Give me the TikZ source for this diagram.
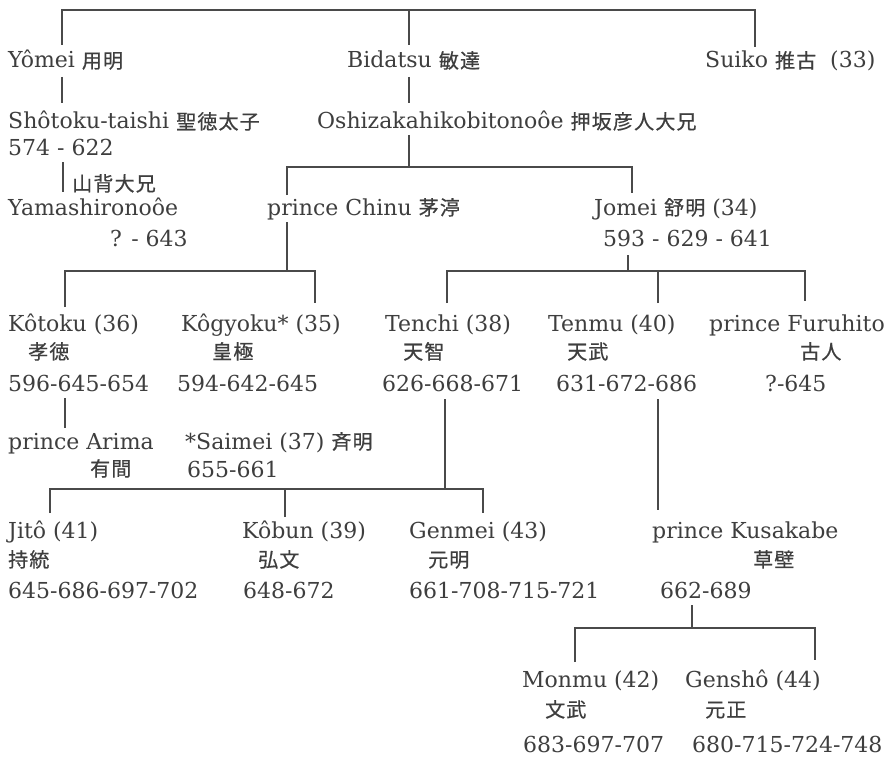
\documentclass[tikz,border=0pt]{standalone}
\usepackage{fontspec}
\setmainfont{DejaVu Serif}
\newfontfamily\cjkfont[FakeBold=0.6,LetterSpace=6]{Noto Sans CJK JP}
\newcommand{\cj}[1]{{\cjkfont\fontsize{20}{23}\selectfont #1}}
\definecolor{ink}{HTML}{3E3E3E}
\definecolor{wire}{HTML}{4A4A4A}
\tikzset{
  lbl/.style={inner sep=0pt, anchor=base west, text=ink, font=\fontsize{22}{26}\selectfont},
  wireline/.style={draw=wire, line width=1.8pt}
}
\begin{document}
\begin{tikzpicture}[x=1pt,y=-1pt]
\useasboundingbox[fill=white] (0,0) rectangle (886,757);
% generation 1
\node[lbl] (yomei) at (8,68) {Yômei \cj{用明}};
\node[lbl] (bidatsu) at (347,68) {Bidatsu \cj{敏達}};
\node[lbl] (suiko) at (705,68) {Suiko \cj{推古}\ \ (33)};
% generation 2
\node[lbl] (shotoku) at (8,129) {Shôtoku-taishi \cj{聖徳太子}};
\node[lbl] (shotokuD) at (8,156) {574 - 622};
\node[lbl] (oshi) at (317,129) {Oshizakahikobitonoôe \cj{押坂彦人大兄}};
% generation 3
\node[lbl] (yamaK) at (72,191) {\cj{山背大兄}};
\node[lbl] (yama) at (8,215) {Yamashironoôe};
\node[lbl] (yamaD) at (110,246) {? - 643};
\node[lbl] (chinu) at (267,215) {prince Chinu \cj{茅渟}};
\node[lbl] (jomei) at (594,215) {Jomei \cj{舒明} (34)};
\node[lbl] (jomeiD) at (603,246) {593 - 629 - 641};
% generation 4
\node[lbl] (kotoku) at (8,331) {Kôtoku (36)};
\node[lbl] (kotokuK) at (28,359) {\cj{孝徳}};
\node[lbl] (kotokuD) at (8,391) {596-645-654};
\node[lbl] (kogyoku) at (181,331) {Kôgyoku* (35)};
\node[lbl] (kogyokuK) at (212,359) {\cj{皇極}};
\node[lbl] (kogyokuD) at (177,391) {594-642-645};
\node[lbl] (tenchi) at (385,331) {Tenchi (38)};
\node[lbl] (tenchiK) at (403,359) {\cj{天智}};
\node[lbl] (tenchiD) at (382,391) {626-668-671};
\node[lbl] (tenmu) at (548,331) {Tenmu (40)};
\node[lbl] (tenmuK) at (567,359) {\cj{天武}};
\node[lbl] (tenmuD) at (556,391) {631-672-686};
\node[lbl] (furu) at (709,331) {prince Furuhito};
\node[lbl] (furuK) at (800,359) {\cj{古人}};
\node[lbl] (furuD) at (765,391) {?-645};
\node[lbl] (arima) at (8,449) {prince Arima};
\node[lbl] (arimaK) at (90,476) {\cj{有間}};
\node[lbl] (saimei) at (185,449) {*Saimei (37) \cj{斉明}};
\node[lbl] (saimeiD) at (187,477) {655-661};
% generation 5
\node[lbl] (jito) at (8,538) {Jitô (41)};
\node[lbl] (jitoK) at (8,567) {\cj{持統}};
\node[lbl] (jitoD) at (8,598) {645-686-697-702};
\node[lbl] (kobun) at (242,538) {Kôbun (39)};
\node[lbl] (kobunK) at (258,567) {\cj{弘文}};
\node[lbl] (kobunD) at (243,598) {648-672};
\node[lbl] (genmei) at (409,538) {Genmei (43)};
\node[lbl] (genmeiK) at (428,567) {\cj{元明}};
\node[lbl] (genmeiD) at (409,598) {661-708-715-721};
\node[lbl] (kusa) at (652,538) {prince Kusakabe};
\node[lbl] (kusaK) at (753,567) {\cj{草壁}};
\node[lbl] (kusaD) at (660,598) {662-689};
% generation 6
\node[lbl] (monmu) at (522,687) {Monmu (42)};
\node[lbl] (monmuK) at (545,717) {\cj{文武}};
\node[lbl] (monmuD) at (523,752) {683-697-707};
\node[lbl] (gensho) at (685,687) {Genshô (44)};
\node[lbl] (genshoK) at (705,717) {\cj{元正}};
\node[lbl] (genshoD) at (692,752) {680-715-724-748};
% junction coordinates
\coordinate (b0L) at (62,10);  \coordinate (b0R) at (755,10);
\coordinate (t1) at (62,45);   \coordinate (t2) at (409,45); \coordinate (t3) at (755,47);
\coordinate (yomeiB) at (62,77); \coordinate (shotokuT) at (62,103);
\coordinate (bidatsuB) at (409,77); \coordinate (oshiT) at (409,103);
\coordinate (oshiB) at (409,135);
\coordinate (b1L) at (287,167); \coordinate (b1R) at (632,167);
\coordinate (chinuT) at (287,195); \coordinate (jomeiT) at (632,193);
\coordinate (shotokuB) at (63,162); \coordinate (yamaT) at (63,192);
\coordinate (chinuB) at (287,222);
\coordinate (b2L) at (65,271); \coordinate (b2R) at (315,271);
\coordinate (kotokuT) at (65,307); \coordinate (kogyokuT) at (315,303);
\coordinate (jomeiB) at (628,255);
\coordinate (b3L) at (447,271); \coordinate (b3R) at (805,271);
\coordinate (tenchiT) at (447,303); \coordinate (tenmuT) at (658,303); \coordinate (furuT) at (805,301);
\coordinate (kotokuB) at (65,398); \coordinate (arimaT) at (65,428);
\coordinate (tenchiB) at (445,399);
\coordinate (b4L) at (50,489); \coordinate (b4R) at (483,489);
\coordinate (jitoT) at (50,513); \coordinate (kobunT) at (285,517); \coordinate (genmeiT) at (483,513);
\coordinate (tenmuB) at (658,399); \coordinate (kusaT) at (658,510);
\coordinate (kusaB) at (692,605);
\coordinate (b5L) at (575,628); \coordinate (b5R) at (815,628);
\coordinate (monmuT) at (575,662); \coordinate (genshoT) at (815,660);
% connectors
\draw[wireline] (t1) -- (b0L) -- (b0R) -- (t3);
\draw[wireline] (t2) -- (t2|-b0L);
\draw[wireline] (yomeiB) -- (shotokuT);
\draw[wireline] (bidatsuB) -- (oshiT);
\draw[wireline] (oshiB) -- (oshiB|-b1L);
\draw[wireline] (chinuT) -- (b1L) -- (b1R) -- (jomeiT);
\draw[wireline] (shotokuB) -- (yamaT);
\draw[wireline] (chinuB) -- (chinuB|-b2L);
\draw[wireline] (kotokuT) -- (b2L) -- (b2R) -- (kogyokuT);
\draw[wireline] (jomeiB) -- (jomeiB|-b3L);
\draw[wireline] (tenchiT) -- (b3L) -- (b3R) -- (furuT);
\draw[wireline] (tenmuT) -- (tenmuT|-b3L);
\draw[wireline] (kotokuB) -- (arimaT);
\draw[wireline] (tenchiB) -- (tenchiB|-b4L);
\draw[wireline] (jitoT) -- (b4L) -- (b4R) -- (genmeiT);
\draw[wireline] (kobunT) -- (kobunT|-b4L);
\draw[wireline] (tenmuB) -- (kusaT);
\draw[wireline] (kusaB) -- (kusaB|-b5L);
\draw[wireline] (monmuT) -- (b5L) -- (b5R) -- (genshoT);
\end{tikzpicture}
\end{document}
